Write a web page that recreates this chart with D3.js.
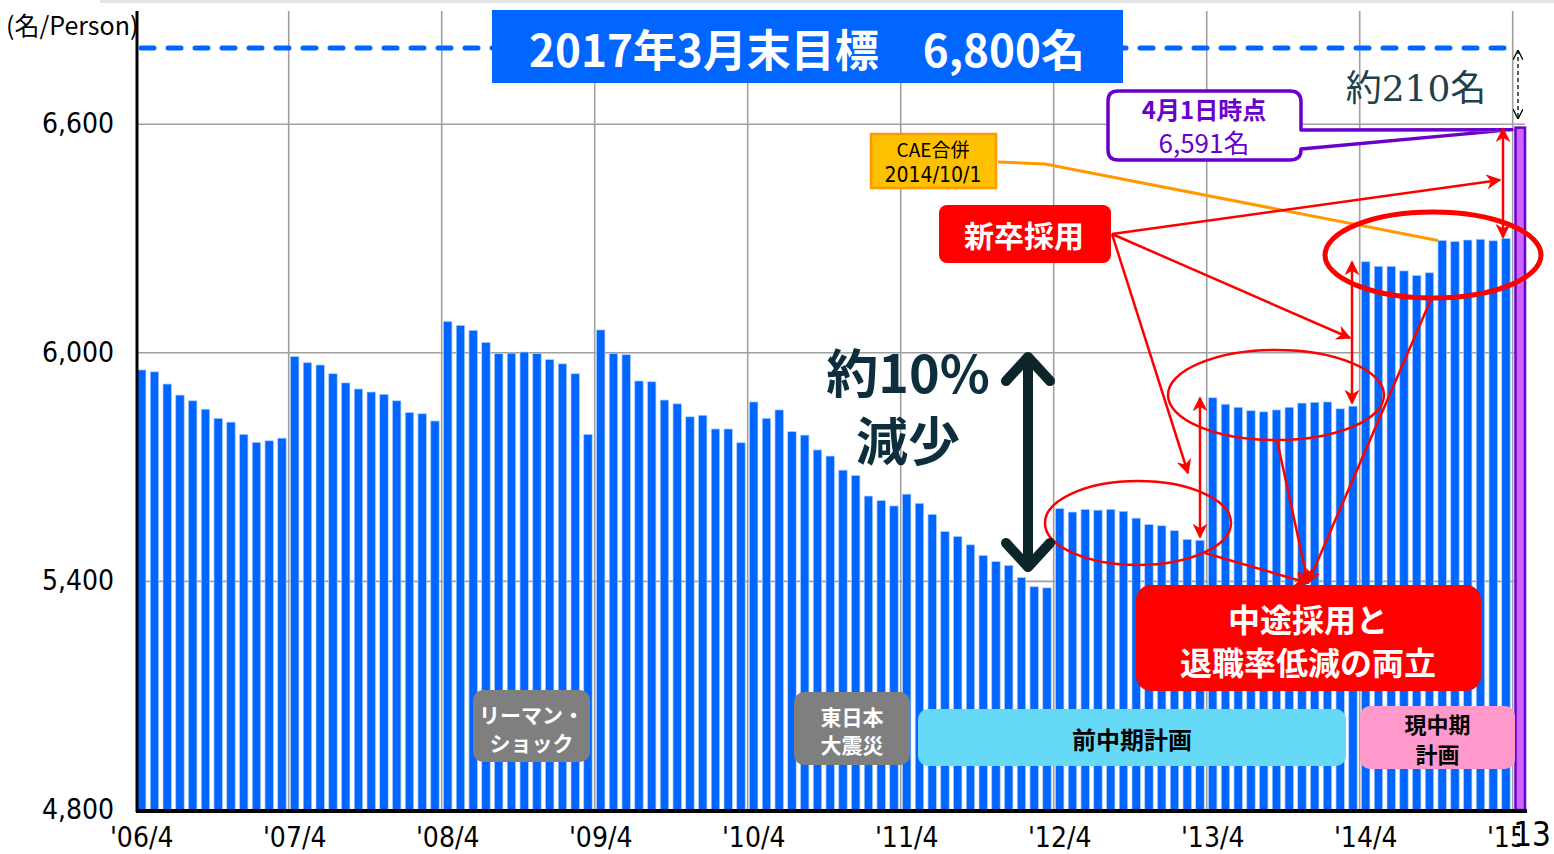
<!DOCTYPE html>
<html>
<head>
<meta charset="utf-8">
<script src="https://cdn.jsdelivr.net/npm/d3@7"></script>
<style>
  body { margin: 0; background: #fff; }
  svg { display: block; }
  .num { font-family: "Liberation Sans Narrow", "DejaVu Sans Condensed", "Noto Sans CJK JP", sans-serif; }
  .jp { font-family: "Noto Sans CJK JP", sans-serif; }
</style>
</head>
<body>
<div id="chart"></div>
<script>
// headcount by month, one array per fiscal year (April..March)
const fy2006 = [5955, 5950, 5918, 5889, 5874, 5852, 5828, 5818, 5786, 5765, 5769, 5776];
const fy2007 = [5990, 5974, 5968, 5945, 5921, 5905, 5897, 5891, 5874, 5843, 5840, 5821];
const fy2008 = [6082, 6072, 6059, 6027, 5998, 5999, 6002, 5998, 5982, 5971, 5945, 5786];
const fy2009 = [6060, 5998, 5995, 5926, 5924, 5876, 5866, 5832, 5836, 5800, 5800, 5764];
const fy2010 = [5871, 5828, 5850, 5793, 5784, 5745, 5729, 5692, 5678, 5624, 5612, 5598];
const fy2011 = [5629, 5605, 5576, 5531, 5518, 5496, 5468, 5452, 5442, 5410, 5386, 5383];
const fy2012 = [5591, 5582, 5589, 5587, 5589, 5584, 5566, 5549, 5546, 5533, 5510, 5508];
const fy2013 = [5882, 5865, 5857, 5848, 5845, 5850, 5857, 5868, 5870, 5871, 5853, 5860];
const fy2014 = [6239, 6227, 6227, 6215, 6203, 6210, 6295, 6292, 6296, 6298, 6294, 6300];
const apr2015 = 6591;   // 4月1日時点
const target = 6800;    // 2017年3月末目標

const yTicks = [4800, 5400, 6000, 6600];
const xTickLabels = ["'06/4", "'07/4", "'08/4", "'09/4", "'10/4", "'11/4", "'12/4", "'13/4", "'14/4", "'15/4"];

const years = [fy2006, fy2007, fy2008, fy2009, fy2010, fy2011, fy2012, fy2013, fy2014];
const data = [];
years.forEach((arr, yi) => {
    arr.forEach((v, mi) => {
        data.push({ key: (2006 + yi) + "-" + mi, value: v, last: false });
    });
});
data.push({ key: "2015-0", value: apr2015, last: true });

const W = 1554, H = 854;
const svg = d3.select("#chart").append("svg")
    .attr("width", W)
    .attr("height", H);

const step = 12.75, padIn = 0.34;
const x = d3.scaleBand()
    .domain(data.map(d => d.key))
    .range([137.5, 137.5 + step * (data.length - padIn)])
    .paddingInner(padIn)
    .paddingOuter(0)
    .align(0);

const y = d3.scaleLinear()
    .domain([4800, 6800])
    .range([810, 48]);

const plotLeft = 137, plotRight = 1525, plotBottom = 810, plotTop = 11;

// faint slide edge
svg.append("rect").attr("x", 100).attr("y", 0).attr("width", W - 100).attr("height", 3).attr("fill", "#e4e4e4");

// gridlines
svg.append("g").selectAll("line")
    .data(yTicks.filter(t => t > 4800))
    .enter().append("line")
        .attr("x1", plotLeft).attr("x2", plotRight)
        .attr("y1", d => y(d)).attr("y2", d => y(d))
        .style("stroke", "#a0a0a0")
        .style("stroke-width", 1.6);

const aprilKeys = d3.range(2007, 2016).map(yr => yr + "-0");
svg.append("g").selectAll("line")
    .data(aprilKeys)
    .enter().append("line")
        .attr("x1", d => x(d) - 1.8).attr("x2", d => x(d) - 1.8)
        .attr("y1", plotTop).attr("y2", plotBottom)
        .style("stroke", "#a0a0a0")
        .style("stroke-width", 1.6);

// bars
svg.append("g").selectAll("rect")
    .data(data.filter(d => !d.last))
    .enter().append("rect")
        .attr("x", d => x(d.key))
        .attr("y", d => y(d.value))
        .attr("width", x.bandwidth())
        .attr("height", d => plotBottom - y(d.value))
        .style("fill", "#0066ff")
        .style("stroke", "#a9cdfc")
        .style("stroke-width", 0.7);

// April 2015 bar (purple)
const lastBar = data[data.length - 1];
svg.append("rect")
    .attr("x", x(lastBar.key) + 1)
    .attr("y", y(lastBar.value))
    .attr("width", 9.5)
    .attr("height", plotBottom - y(lastBar.value))
    .style("fill", "#cc66ff")
    .style("stroke", "#6a00cc")
    .style("stroke-width", 2.5);

// axes lines
svg.append("line").attr("x1", plotLeft).attr("x2", plotLeft).attr("y1", plotTop).attr("y2", plotBottom + 2)
    .style("stroke", "#000").style("stroke-width", 3);
svg.append("line").attr("x1", plotLeft - 1).attr("x2", plotRight + 2).attr("y1", plotBottom + 1).attr("y2", plotBottom + 1)
    .style("stroke", "#000").style("stroke-width", 4);

// y tick labels
svg.append("g").selectAll("text")
    .data(yTicks)
    .enter().append("text")
        .attr("class", "num")
        .attr("x", 114)
        .attr("y", d => y(d) + 9)
        .attr("text-anchor", "end")
        .style("font-size", "28px")
        .text(d3.format(","));

// x tick labels
svg.append("g").selectAll("text")
    .data(xTickLabels)
    .enter().append("text")
        .attr("class", "num")
        .attr("x", (d, i) => x((2006 + i) + "-0") + x.bandwidth() / 2)
        .attr("y", 847)
        .attr("text-anchor", "middle")
        .style("font-size", "28px")
        .text(d => d);

// page number over the last label
svg.append("rect").attr("x", 1520).attr("y", 814).attr("width", 34).attr("height", 40).attr("fill", "#fff");
svg.append("text").attr("class", "num").attr("x", 1551).attr("y", 846)
    .attr("text-anchor", "end")
    .style("font-size", "33px").text("13");

// unit label
svg.append("text").attr("class", "jp")
    .attr("x", 6).attr("y", 35)
    .style("font-size", "25px")
    .text("(名/Person)");

// target dashed line
svg.append("line")
    .attr("x1", plotLeft + 4).attr("x2", 1511)
    .attr("y1", y(target)).attr("y2", y(target))
    .style("stroke", "#0066ff")
    .style("stroke-width", 5)
    .style("stroke-linecap", "round")
    .style("stroke-dasharray", "13,14");

// title box
svg.append("rect").attr("x", 492).attr("y", 10).attr("width", 631).attr("height", 73).attr("fill", "#0066ff");
svg.append("text").attr("class", "jp")
    .attr("x", 807).attr("y", 67)
    .attr("text-anchor", "middle")
    .style("font-size", "44px").style("font-weight", "bold").style("fill", "#fff")
    .text("2017年3月末目標　6,800名");

// markers
const defs = svg.append("defs");
defs.append("marker")
    .attr("id", "redHead")
    .attr("viewBox", "0 0 10 10")
    .attr("refX", 9).attr("refY", 5)
    .attr("markerWidth", 6).attr("markerHeight", 6)
    .attr("markerUnits", "strokeWidth")
    .attr("orient", "auto-start-reverse")
    .append("path")
        .attr("d", "M0,0L10,5L0,10L3,5z")
        .style("fill", "#ff0000");
defs.append("marker")
    .attr("id", "blackHead")
    .attr("viewBox", "0 0 10 10")
    .attr("refX", 10).attr("refY", 5)
    .attr("markerWidth", 10).attr("markerHeight", 10)
    .attr("markerUnits", "userSpaceOnUse")
    .attr("orient", "auto-start-reverse")
    .append("path")
        .attr("d", "M0,0L10,5L0,10")
        .style("fill", "none")
        .style("stroke", "#000")
        .style("stroke-width", 1.3);

// 約210名 gap arrow
svg.append("line")
    .attr("x1", 1518).attr("x2", 1518)
    .attr("y1", 50).attr("y2", 119)
    .style("stroke", "#000").style("stroke-width", 1.3)
    .style("stroke-dasharray", "4,3")
    .attr("marker-start", "url(#blackHead)")
    .attr("marker-end", "url(#blackHead)");
svg.append("text")
    .attr("x", 1416).attr("y", 101)
    .attr("text-anchor", "middle")
    .style("font-family", "'DejaVu Serif', 'Liberation Serif', 'Noto Sans CJK JP', serif")
    .style("font-size", "36px").style("fill", "#1e3f4c")
    .text("約210名");

// purple callout
const px = y(apr2015) + 2;
svg.append("path")
    .attr("d", `M1118,91 H1290 Q1301,91 1301,102 V130 L1512,${px} L1301,149 V150 Q1301,160 1290,160 H1118 Q1108,160 1108,150 V101 Q1108,91 1118,91 Z`)
    .style("fill", "#fff")
    .style("stroke", "#6a00cc")
    .style("stroke-width", 3.5)
    .style("stroke-linejoin", "round");
svg.append("text").attr("class", "jp").attr("x", 1204).attr("y", 119)
    .attr("text-anchor", "middle").style("font-size", "24px").style("font-weight", "bold").style("fill", "#6a00cc")
    .text("4月1日時点");
svg.append("text").attr("class", "jp").attr("x", 1204).attr("y", 153)
    .attr("text-anchor", "middle").style("font-size", "26px").style("fill", "#6a00cc")
    .text("6,591名");

// CAE merger label
const caeX = x("2014-6");
svg.append("polyline")
    .attr("points", `998,162 1045,164 ${caeX},${y(fy2014[6])}`)
    .style("fill", "none").style("stroke", "#ff9900").style("stroke-width", 3);
svg.append("rect").attr("x", 871).attr("y", 134).attr("width", 125).attr("height", 54)
    .attr("fill", "#ffc000").attr("stroke", "#ff9900").attr("stroke-width", 2.5);
svg.append("text").attr("class", "jp").attr("x", 933).attr("y", 157)
    .attr("text-anchor", "middle").style("font-size", "19px").text("CAE合併");
svg.append("text").attr("class", "num").attr("x", 933).attr("y", 182)
    .attr("text-anchor", "middle").style("font-size", "21px").text("2014/10/1");

// ellipses
const ellipses = [
    { cx: 1138, cy: 523, rx: 93, ry: 42, w: 2.5 },
    { cx: 1276, cy: 395, rx: 108, ry: 45, w: 2.5 },
    { cx: 1433, cy: 255, rx: 108, ry: 43, w: 5 }
];
svg.append("g").selectAll("ellipse")
    .data(ellipses)
    .enter().append("ellipse")
        .attr("cx", d => d.cx).attr("cy", d => d.cy)
        .attr("rx", d => d.rx).attr("ry", d => d.ry)
        .style("fill", "none").style("stroke", "#ff0000")
        .style("stroke-width", d => d.w);

// red arrows
const redLines = [
    [1112, 234, 1500, 180],
    [1112, 234, 1350, 338],
    [1112, 234, 1188, 473],
    [1205, 553, 1308, 583],
    [1277, 440, 1308, 583],
    [1432, 297, 1308, 583]
];
svg.append("g").selectAll("line")
    .data(redLines)
    .enter().append("line")
        .attr("x1", d => d[0]).attr("y1", d => d[1])
        .attr("x2", d => d[2]).attr("y2", d => d[3])
        .style("stroke", "#ff0000").style("stroke-width", 2.5)
        .attr("marker-end", "url(#redHead)");

// vertical double arrows for new-graduate hires
const gaps = [
    { x: 1200, y1: y(fy2013[0]), y2: y(fy2012[11]) - 3 },
    { x: 1352, y1: y(fy2014[0]), y2: y(fy2013[11]) - 3 },
    { x: 1503, y1: y(apr2015) + 1, y2: y(fy2014[11]) - 1 }
];
svg.append("g").selectAll("line")
    .data(gaps)
    .enter().append("line")
        .attr("x1", d => d.x).attr("x2", d => d.x)
        .attr("y1", d => d.y1).attr("y2", d => d.y2)
        .style("stroke", "#ff0000").style("stroke-width", 2.5)
        .attr("marker-start", "url(#redHead)")
        .attr("marker-end", "url(#redHead)");

// 新卒採用 box
svg.append("rect").attr("x", 939).attr("y", 205).attr("width", 172).attr("height", 58).attr("rx", 8)
    .attr("fill", "#ff0000");
svg.append("text").attr("class", "jp").attr("x", 1024).attr("y", 247)
    .attr("text-anchor", "middle").style("font-size", "30px").style("font-weight", "bold").style("fill", "#fff")
    .text("新卒採用");

// 中途採用 box
svg.append("rect").attr("x", 1136).attr("y", 585).attr("width", 345).attr("height", 106).attr("rx", 15)
    .attr("fill", "#ff0000");
svg.append("text").attr("class", "jp").attr("x", 1308).attr("y", 632)
    .attr("text-anchor", "middle").style("font-size", "32px").style("font-weight", "bold").style("fill", "#fff")
    .text("中途採用と");
svg.append("text").attr("class", "jp").attr("x", 1308).attr("y", 675)
    .attr("text-anchor", "middle").style("font-size", "32px").style("font-weight", "bold").style("fill", "#fff")
    .text("退職率低減の両立");

// 約10% 減少
svg.append("text").attr("class", "jp").attr("x", 908).attr("y", 393)
    .attr("text-anchor", "middle").style("font-size", "52px").style("font-weight", "bold").style("fill", "#0d2f3d")
    .text("約10%");
svg.append("text").attr("class", "jp").attr("x", 908).attr("y", 461)
    .attr("text-anchor", "middle").style("font-size", "52px").style("font-weight", "bold").style("fill", "#0d2f3d")
    .text("減少");

const bigArrow = svg.append("g")
    .style("fill", "none").style("stroke", "#0b2529")
    .style("stroke-width", 10).style("stroke-linecap", "round").style("stroke-linejoin", "round");
bigArrow.append("line").attr("x1", 1028).attr("x2", 1028).attr("y1", 358).attr("y2", 565);
bigArrow.append("polyline").attr("points", "1006,381 1028,357 1050,381");
bigArrow.append("polyline").attr("points", "1006,543 1028,567 1050,543");

// event / plan labels
const boxes = [
    { x: 473, y: 690, w: 117, h: 72, fill: "#7f7f7f", color: "#fff", size: 21, weight: "bold", lines: ["リーマン・", "ショック"], ly: [723, 751] },
    { x: 794, y: 692, w: 116, h: 73, fill: "#7f7f7f", color: "#fff", size: 21, weight: "bold", lines: ["東日本", "大震災"], ly: [725, 753] },
    { x: 918, y: 709, w: 428, h: 57, fill: "#66d9f7", color: "#000", size: 24, weight: "bold", lines: ["前中期計画"], ly: [749] },
    { x: 1360, y: 706, w: 155, h: 63, fill: "#ff99cc", color: "#000", size: 22, weight: "bold", lines: ["現中期", "計画"], ly: [733, 763] }
];
const boxG = svg.append("g").selectAll("g")
    .data(boxes)
    .enter().append("g");
boxG.append("rect")
    .attr("x", d => d.x).attr("y", d => d.y)
    .attr("width", d => d.w).attr("height", d => d.h)
    .attr("rx", 10)
    .attr("fill", d => d.fill);
boxG.each(function(d) {
    const g = d3.select(this);
    d.lines.forEach((t, i) => {
        g.append("text").attr("class", "jp")
            .attr("x", d.x + d.w / 2).attr("y", d.ly[i])
            .attr("text-anchor", "middle")
            .style("font-size", d.size + "px")
            .style("font-weight", d.weight)
            .style("fill", d.color)
            .text(t);
    });
});
</script>
</body>
</html>
